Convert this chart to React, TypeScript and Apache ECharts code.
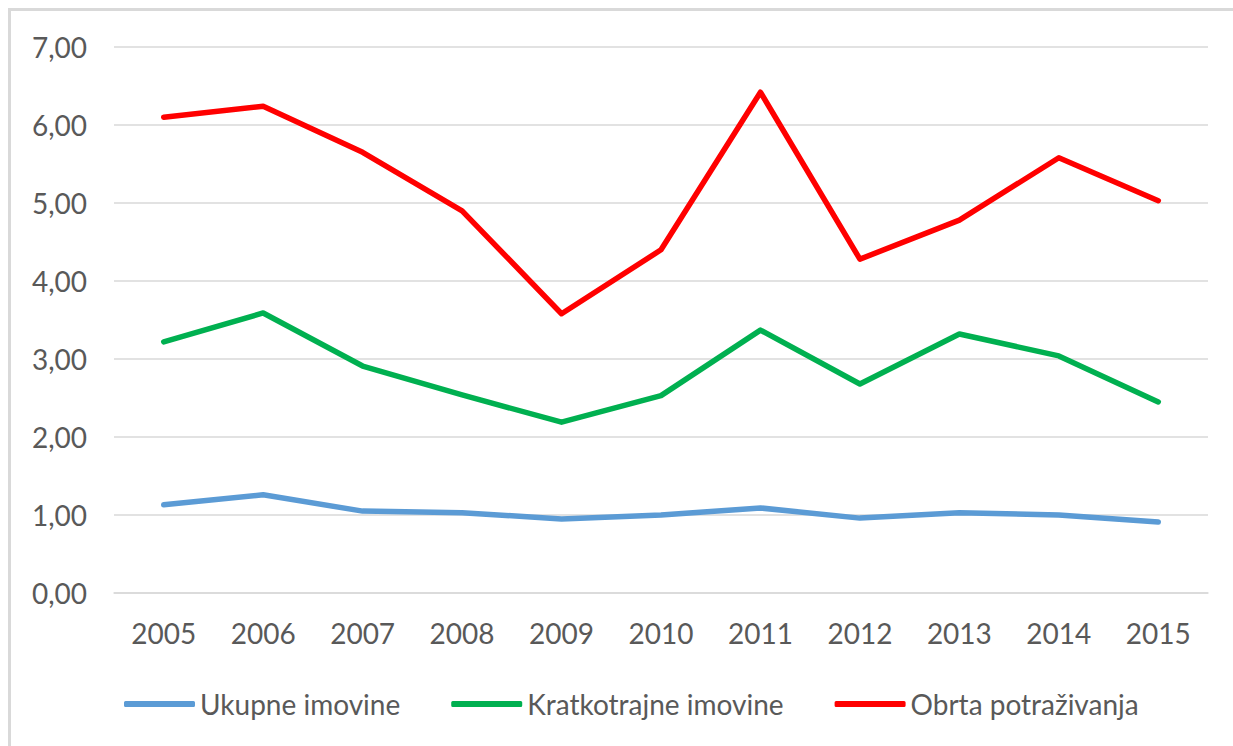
import React, { useEffect, useRef } from "react";
import * as echarts from "echarts";

const years = ["2005", "2006", "2007", "2008", "2009", "2010", "2011", "2012", "2013", "2014", "2015"];
const ukupneImovine = [1.13, 1.26, 1.05, 1.03, 0.95, 1.0, 1.09, 0.96, 1.03, 1.0, 0.91];
const kratkotrajneImovine = [3.22, 3.59, 2.91, 2.54, 2.19, 2.53, 3.37, 2.68, 3.32, 3.04, 2.45];
const obrtaPotrazivanja = [6.1, 6.24, 5.65, 4.9, 3.58, 4.4, 6.42, 4.28, 4.78, 5.58, 5.03];
const seriesNames = ["Ukupne imovine", "Kratkotrajne imovine", "Obrta potraživanja"];
const seriesColors = ["#5B9BD5", "#00B050", "#FF0000"];

const FONT = "Lato, 'Open Sans', sans-serif";
const TEXT = "#595959";

export default function App() {
  const ref = useRef<HTMLDivElement>(null);
  useEffect(() => {
    if (!ref.current) return;
    const chart = echarts.init(ref.current, undefined, { renderer: "svg" });
    const data = [ukupneImovine, kratkotrajneImovine, obrtaPotrazivanja];
    chart.setOption({
      animation: false,
      backgroundColor: "#ffffff",
      graphic: [
        {
          type: "rect",
          shape: { x: 9.5, y: 9.5, width: 1400, height: 900 },
          style: { fill: "none", stroke: "#d9d9d9", lineWidth: 3 },
          silent: true,
        },
      ],
      grid: { left: 114, right: 25, top: 47, bottom: 153 },
      legend: {
        left: 119,
        top: 685,
        icon: "roundRect",
        itemWidth: 71,
        itemHeight: 6,
        itemGap: 51,
        textStyle: { color: TEXT, fontSize: 28, fontFamily: FONT, lineHeight: 28 },
        data: seriesNames,
      },
      xAxis: {
        type: "category",
        data: years,
        boundaryGap: true,
        axisLine: { show: true, lineStyle: { color: "#d9d9d9", width: 1.5 } },
        axisTick: { show: false },
        axisLabel: { color: TEXT, fontSize: 28, fontFamily: FONT, margin: 26 },
      },
      yAxis: {
        type: "value",
        min: 0,
        max: 7,
        interval: 1,
        axisLine: { show: false },
        axisTick: { show: false },
        splitLine: { lineStyle: { color: "#d9d9d9", width: 1.5 } },
        axisLabel: {
          color: TEXT,
          fontSize: 28,
          fontFamily: FONT,
          margin: 27,
          formatter: (v: number) => v.toFixed(2).replace(".", ","),
        },
      },
      series: seriesNames.map((name, i) => ({
        name,
        type: "line",
        data: data[i],
        symbol: "none",
        color: seriesColors[i],
        lineStyle: { color: seriesColors[i], width: 5.5, cap: "round", join: "round" },
      })),
    });
    return () => chart.dispose();
  }, []);
  return (
    <div
      ref={ref}
      style={{ position: "fixed", left: 0, top: 0, width: 1233, height: 746, background: "#fff" }}
    />
  );
}
